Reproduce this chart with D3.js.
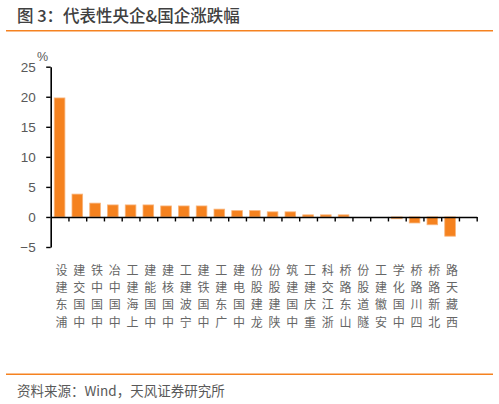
<!DOCTYPE html>
<html>
<head>
<meta charset="utf-8">
<script src="https://cdn.jsdelivr.net/npm/d3@7"></script>
<style>
  body { margin: 0; background: #fff; }
  svg { display: block; font-family: "Liberation Sans", Arial, sans-serif; }
</style>
</head>
<body>
<svg></svg>
<script>
// 数据
const categories = ["浦东建设", "中国交建", "中国中铁", "中国中冶", "上海建工", "中国能建",
  "中国核建", "宁波建工", "中国铁建", "广东建工", "中国电建", "龙建股份", "陕建股份",
  "中国建筑", "重庆建工", "浙江交科", "山东路桥", "隧道股份", "安徽建工", "中国化学",
  "四川路桥", "北新路桥", "西藏天路"];
const values = [19.8, 3.8, 2.3, 2.0, 2.0, 2.0, 1.83, 1.83, 1.83, 1.3, 1.05, 1.05, 0.85,
  0.85, 0.35, 0.35, 0.35, 0, 0, -0.3, -1.0, -1.3, -3.2];
const yTicks = [-5, 0, 5, 10, 15, 20, 25];

const width = 499;
const height = 404;
const left = 50.7, right = 476.7;
const cjk = '"Noto Sans CJK SC", "Noto Sans", sans-serif';

let svg = d3.select("svg")
  .attr("width", width)
  .attr("height", height);

// 标题和分隔线
svg.append("text")
  .attr("x", 17)
  .attr("y", 22)
  .attr("fill", "#404040")
  .style("font-family", cjk)
  .style("font-size", "16.5px")
  .style("font-weight", 500)
  .text("图 3：代表性央企&国企涨跌幅");

svg.append("line")
  .attr("x1", 6).attr("x2", 493)
  .attr("y1", 30.7).attr("y2", 30.7)
  .attr("stroke", "#F58220")
  .attr("stroke-width", 1.5);

svg.append("line")
  .attr("x1", 6).attr("x2", 493)
  .attr("y1", 374.3).attr("y2", 374.3)
  .attr("stroke", "#F58220")
  .attr("stroke-width", 1.5);

svg.append("text")
  .attr("x", 17)
  .attr("y", 396)
  .attr("fill", "#595959")
  .style("font-family", cjk)
  .style("font-size", "13.5px")
  .text("资料来源：Wind，天风证券研究所");

// 比例尺（最后一格为空）
let domainX = categories.concat([""]);
let scX = d3.scaleBand()
  .domain(domainX)
  .range([left, right])
  .paddingInner(0.4)
  .paddingOuter(0.2);

let scY = d3.scaleLinear()
  .domain([-5, 25])
  .range([247, 66.7]);

// 柱子
svg.selectAll(".bar")
  .data(categories)
  .enter()
  .append("rect")
  .attr("x", d => scX(d))
  .attr("width", scX.bandwidth())
  .attr("y", (d, i) => scY(Math.max(0, values[i])))
  .attr("height", (d, i) => Math.abs(scY(values[i]) - scY(0)))
  .attr("fill", "#F5821F")
  .attr("stroke", "#F9B47A")
  .attr("stroke-width", (d, i) => values[i] === 0 ? 0 : 0.8);

// Y轴
let axisY = d3.axisLeft(scY)
  .tickValues(yTicks)
  .tickSize(4.5)
  .tickSizeOuter(0)
  .tickPadding(10.5)
  .tickFormat(d => d < 0 ? "−" + Math.abs(d) : d);

let gY = svg.append("g")
  .attr("transform", `translate(${left}, 0)`)
  .call(axisY);
gY.select(".domain").attr("stroke", "#000").attr("stroke-width", 1.6);
gY.selectAll(".tick line").attr("stroke", "#000").attr("stroke-width", 1.4);
gY.selectAll(".tick text")
  .attr("fill", "#595959")
  .style("font-size", "13.5px")
  .style("font-family", '"Liberation Sans", Arial, sans-serif');

svg.append("text")
  .attr("x", 37)
  .attr("y", 61)
  .attr("fill", "#595959")
  .style("font-size", "12.5px")
  .text("%");

// X轴：刻度在分类边界
let scIdx = d3.scaleLinear()
  .domain([0, domainX.length])
  .range([left, right]);

let axisX = d3.axisBottom(scIdx)
  .tickValues(d3.range(1, domainX.length + 1))
  .tickSize(4.5)
  .tickSizeOuter(0)
  .tickFormat("");

let gX = svg.append("g")
  .attr("transform", `translate(0, ${scY(0)})`)
  .call(axisX);
gX.select(".domain").attr("stroke", "#000").attr("stroke-width", 1.6);
gX.selectAll(".tick line").attr("stroke", "#000").attr("stroke-width", 1.4);

// 分类标签：竖排，自下而上，每个字单独一个 text
let labels = svg.append("g")
  .style("font-family", cjk)
  .style("font-size", "12px")
  .attr("fill", "#666666");

categories.forEach(function(name) {
  let cx = scX(name) + scX.bandwidth() / 2 + 2;
  Array.from(name).forEach(function(ch, k) {
    labels.append("text")
      .attr("x", cx)
      .attr("y", 321.2 - k * 17.4)
      .attr("text-anchor", "middle")
      .attr("dominant-baseline", "central")
      .text(ch);
  });
});
</script>
</body>
</html>
